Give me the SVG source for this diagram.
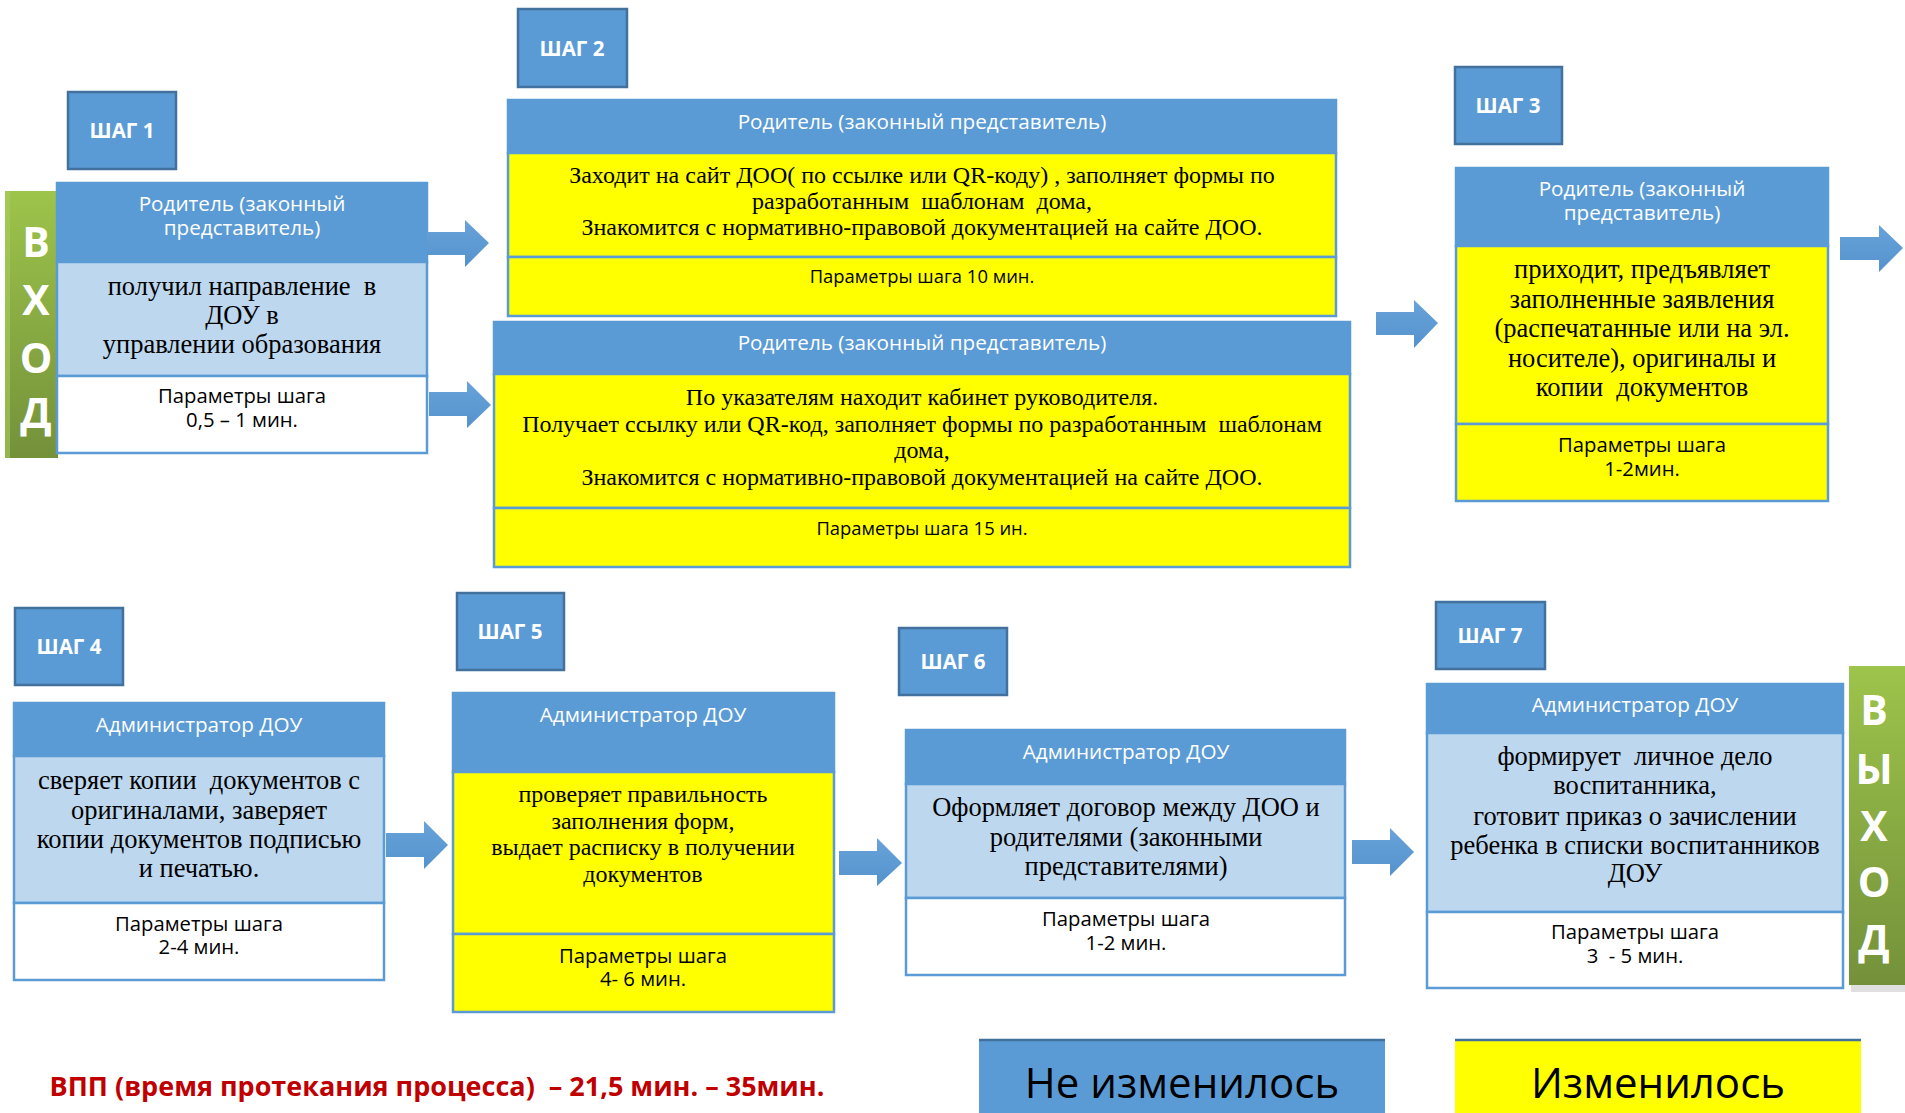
<svg xmlns="http://www.w3.org/2000/svg" width="1905" height="1113" viewBox="0 0 1905 1113">
<defs>
<linearGradient id="gIn" x1="0" y1="0" x2="0" y2="1">
<stop offset="0" stop-color="#9dc44b"/><stop offset="1" stop-color="#74913a"/>
</linearGradient>
<linearGradient id="gArr" x1="0" y1="0" x2="0" y2="1">
<stop offset="0" stop-color="#68a3da"/><stop offset="1" stop-color="#5592cc"/>
</linearGradient>
<style>
.step rect{fill:#5b9bd5;stroke:#41719c;stroke-width:2.5}
.step text{font-family:"Open Sans","Liberation Sans",sans-serif;font-weight:bold;font-size:20.5px;fill:#fff;text-anchor:middle}
.hd{fill:#5b9bd5;stroke:#5b9bd5;stroke-width:2.5}
.lb{fill:#bdd7ee;stroke:#5b9bd5;stroke-width:2.5}
.yl{fill:#ffff00;stroke:#5b9bd5;stroke-width:2.5}
.wh{fill:#ffffff;stroke:#5b9bd5;stroke-width:2.5}
.ht{font-family:"Open Sans","Liberation Sans",sans-serif;font-size:20.7px;fill:#fff;text-anchor:middle}
.bt{font-family:"Liberation Serif","DejaVu Serif",serif;font-size:26.5px;fill:#000;text-anchor:middle;white-space:pre}
.bs{font-size:24px}
.pt{font-family:"Open Sans","Liberation Sans",sans-serif;font-size:20.3px;fill:#000;text-anchor:middle;white-space:pre}
.ps{font-size:18.4px}
.arr{fill:url(#gArr)}
.io text{font-family:"Open Sans","Liberation Sans",sans-serif;font-weight:bold;font-size:41px;fill:#fff;text-anchor:middle}
</style>
</defs>
<rect width="1905" height="1113" fill="#fff"/>

<g id="entry" class="io">
<rect x="5" y="191" width="53" height="267" fill="url(#gIn)"/>
<rect x="5" y="191" width="5" height="267" fill="#a9cd5d" opacity="0.6"/>
<text x="36" y="257">В</text>
<text x="36" y="315">Х</text>
<text x="36" y="373">О</text>
<text x="36" y="428">Д</text>
</g>

<g id="exit" class="io">
<rect x="1851" y="672" width="56" height="320" fill="#666" opacity="0.2"/>
<rect x="1849" y="666" width="56" height="319" fill="url(#gIn)"/>
<text x="1874" y="725">В</text>
<text x="1874" y="784">Ы</text>
<text x="1874" y="841">Х</text>
<text x="1874" y="897">О</text>
<text x="1874" y="955">Д</text>
</g>

<g id="step1-label" class="step"><rect x="68" y="92" width="108" height="77"/><text x="122" y="138">ШАГ 1</text></g>
<g id="step2-label" class="step"><rect x="518" y="9" width="109" height="78"/><text x="572" y="56">ШАГ 2</text></g>
<g id="step3-label" class="step"><rect x="1455" y="67" width="107" height="77"/><text x="1508" y="113">ШАГ 3</text></g>
<g id="step4-label" class="step"><rect x="15" y="608" width="108" height="77"/><text x="69" y="654">ШАГ 4</text></g>
<g id="step5-label" class="step"><rect x="457" y="593" width="107" height="77"/><text x="510" y="639">ШАГ 5</text></g>
<g id="step6-label" class="step"><rect x="899" y="628" width="108" height="67"/><text x="953" y="669">ШАГ 6</text></g>
<g id="step7-label" class="step"><rect x="1436" y="602" width="109" height="67"/><text x="1490" y="643">ШАГ 7</text></g>

<g id="step1">
<rect class="hd" x="57" y="183" width="370" height="79"/>
<rect class="lb" x="57" y="262" width="370" height="114"/>
<rect class="wh" x="57" y="376" width="370" height="77"/>
<text class="ht" x="242" y="211">Родитель (законный</text>
<text class="ht" x="242" y="235">представитель)</text>
<text class="bt" x="242" y="295">получил направление  в</text>
<text class="bt" x="242" y="324">ДОУ в</text>
<text class="bt" x="242" y="353">управлении образования</text>
<text class="pt" x="242" y="403">Параметры шага</text>
<text class="pt" x="242" y="427">0,5 – 1 мин.</text>
</g>

<g id="step2a">
<rect class="hd" x="508" y="100" width="828" height="53"/>
<rect class="yl" x="508" y="153" width="828" height="104"/>
<rect class="yl" x="508" y="257" width="828" height="59"/>
<text class="ht" x="922" y="129">Родитель (законный представитель)</text>
<text class="bt bs" x="922" y="183">Заходит на сайт ДОО( по ссылке или QR-коду) , заполняет формы по</text>
<text class="bt bs" x="922" y="209">разработанным  шаблонам  дома,</text>
<text class="bt bs" x="922" y="235">Знакомится с нормативно-правовой документацией на сайте ДОО.</text>
<text class="pt ps" x="922" y="283">Параметры шага 10 мин.</text>
</g>

<g id="step2b">
<rect class="hd" x="494" y="322" width="856" height="52"/>
<rect class="yl" x="494" y="374" width="856" height="134"/>
<rect class="yl" x="494" y="508" width="856" height="59"/>
<text class="ht" x="922" y="350">Родитель (законный представитель)</text>
<text class="bt bs" x="922" y="405">По указателям находит кабинет руководителя.</text>
<text class="bt bs" x="922" y="432">Получает ссылку или QR-код, заполняет формы по разработанным  шаблонам</text>
<text class="bt bs" x="922" y="458">дома,</text>
<text class="bt bs" x="922" y="485">Знакомится с нормативно-правовой документацией на сайте ДОО.</text>
<text class="pt ps" x="922" y="535">Параметры шага 15 ин.</text>
</g>

<g id="step3">
<rect class="hd" x="1456" y="168" width="372" height="78"/>
<rect class="yl" x="1456" y="246" width="372" height="178"/>
<rect class="yl" x="1456" y="424" width="372" height="77"/>
<text class="ht" x="1642" y="196">Родитель (законный</text>
<text class="ht" x="1642" y="220">представитель)</text>
<text class="bt" x="1642" y="278">приходит, предъявляет</text>
<text class="bt" x="1642" y="308">заполненные заявления</text>
<text class="bt" x="1642" y="337">(распечатанные или на эл.</text>
<text class="bt" x="1642" y="367">носителе), оригиналы и</text>
<text class="bt" x="1642" y="396">копии  документов</text>
<text class="pt" x="1642" y="452">Параметры шага</text>
<text class="pt" x="1642" y="476">1-2мин.</text>
</g>

<g id="step4">
<rect class="hd" x="14" y="703" width="370" height="53"/>
<rect class="lb" x="14" y="756" width="370" height="147"/>
<rect class="wh" x="14" y="903" width="370" height="77"/>
<text class="ht" x="199" y="732">Администратор ДОУ</text>
<text class="bt" x="199" y="789">сверяет копии  документов с</text>
<text class="bt" x="199" y="819">оригиналами, заверяет</text>
<text class="bt" x="199" y="848">копии документов подписью</text>
<text class="bt" x="199" y="877">и печатью.</text>
<text class="pt" x="199" y="931">Параметры шага</text>
<text class="pt" x="199" y="954">2-4 мин.</text>
</g>

<g id="step5">
<rect class="hd" x="453" y="693" width="381" height="79"/>
<rect class="yl" x="453" y="772" width="381" height="162"/>
<rect class="yl" x="453" y="934" width="381" height="78"/>
<text class="ht" x="643" y="722">Администратор ДОУ</text>
<text class="bt bs" x="643" y="802">проверяет правильность</text>
<text class="bt bs" x="643" y="829">заполнения форм,</text>
<text class="bt bs" x="643" y="855">выдает расписку в получении</text>
<text class="bt bs" x="643" y="882">документов</text>
<text class="pt" x="643" y="963">Параметры шага</text>
<text class="pt" x="643" y="986">4- 6 мин.</text>
</g>

<g id="step6">
<rect class="hd" x="906" y="730" width="439" height="54"/>
<rect class="lb" x="906" y="784" width="439" height="114"/>
<rect class="wh" x="906" y="898" width="439" height="77"/>
<text class="ht" x="1126" y="759">Администратор ДОУ</text>
<text class="bt" x="1126" y="816">Оформляет договор между ДОО и</text>
<text class="bt" x="1126" y="846">родителями (законными</text>
<text class="bt" x="1126" y="875">представителями)</text>
<text class="pt" x="1126" y="926">Параметры шага</text>
<text class="pt" x="1126" y="950">1-2 мин.</text>
</g>

<g id="step7">
<rect class="hd" x="1427" y="684" width="416" height="49"/>
<rect class="lb" x="1427" y="733" width="416" height="179"/>
<rect class="wh" x="1427" y="912" width="416" height="76"/>
<text class="ht" x="1635" y="712">Администратор ДОУ</text>
<text class="bt" x="1635" y="765">формирует  личное дело</text>
<text class="bt" x="1635" y="794">воспитанника,</text>
<text class="bt" x="1635" y="825">готовит приказ о зачислении</text>
<text class="bt" x="1635" y="854">ребенка в списки воспитанников</text>
<text class="bt" x="1635" y="882">ДОУ</text>
<text class="pt" x="1635" y="939">Параметры шага</text>
<text class="pt" x="1635" y="963">3  - 5 мин.</text>
</g>

<g id="connectors">
<polygon class="arr" points="427,232 465,232 465,220 489,243 465,267 465,255 427,255"/>
<polygon class="arr" points="429,392 467,392 467,381 491,405 467,428 467,416 429,416"/>
<polygon class="arr" points="1376,312 1414,312 1414,300 1438,323 1414,348 1414,335 1376,335"/>
<polygon class="arr" points="1840,237 1879,237 1879,225 1903,248 1879,272 1879,260 1840,260"/>
<polygon class="arr" points="386,833 424,833 424,821 448,845 424,869 424,857 386,857"/>
<polygon class="arr" points="839,851 877,851 877,838 902,863 877,886 877,875 839,875"/>
<polygon class="arr" points="1352,840 1390,840 1390,828 1414,852 1390,876 1390,864 1352,864"/>
</g>

<g id="summary">
<text x="437" y="1096" style="font-family:'Open Sans','Liberation Sans',sans-serif;font-weight:bold;font-size:27px;fill:#c00000;text-anchor:middle;white-space:pre">ВПП (время протекания процесса)  – 21,5 мин. – 35мин.</text>
</g>

<g id="legend-unchanged">
<rect x="979" y="1040" width="406" height="80" fill="#5b9bd5"/>
<line x1="979" y1="1040" x2="1385" y2="1040" stroke="#41719c" stroke-width="2.5"/>
<text x="1182" y="1098" style="font-family:'Open Sans','Liberation Sans',sans-serif;font-size:42px;fill:#000;text-anchor:middle">Не изменилось</text>
</g>
<g id="legend-changed">
<rect x="1455" y="1040" width="406" height="80" fill="#ffff00"/>
<line x1="1455" y1="1040" x2="1861" y2="1040" stroke="#41719c" stroke-width="2.5"/>
<text x="1658" y="1098" style="font-family:'Open Sans','Liberation Sans',sans-serif;font-size:42px;fill:#000;text-anchor:middle">Изменилось</text>
</g>
</svg>
